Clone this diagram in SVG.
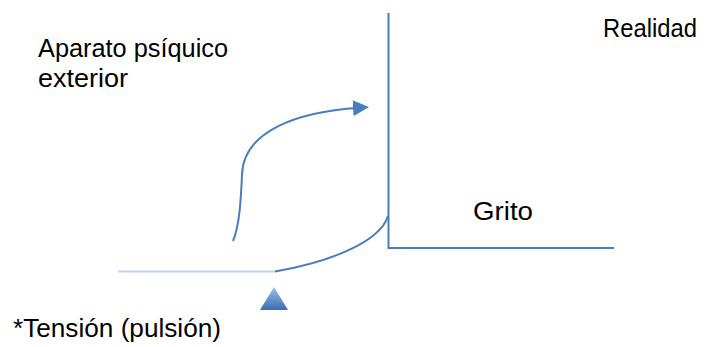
<svg xmlns="http://www.w3.org/2000/svg" width="706" height="347" viewBox="0 0 706 347">
<style>
text{font-family:"Liberation Sans","Open Sans",sans-serif;font-size:26px;fill:#000}
.ln{fill:none;stroke:#4a7ebb;stroke-width:2}
</style>
<defs>
<marker id="ah" markerWidth="16" markerHeight="16" refX="3" refY="8" orient="auto" markerUnits="userSpaceOnUse" viewBox="0 0 16 16">
<path d="M0,0 L16,8 L0,16 Z" fill="#4a7ebb"/>
</marker>
<linearGradient id="tg" x1="0" y1="0" x2="0" y2="1">
<stop offset="0" stop-color="#9dbfe8"/>
<stop offset="1" stop-color="#3a6db5"/>
</linearGradient>
</defs>
<rect width="706" height="347" fill="#fff"/>
<g id="labels">
<text x="38" y="57" textLength="190" lengthAdjust="spacingAndGlyphs">Aparato psíquico</text>
<text x="38" y="87" textLength="90" lengthAdjust="spacingAndGlyphs">exterior</text>
<text x="603" y="37" textLength="94" lengthAdjust="spacingAndGlyphs">Realidad</text>
<text x="473" y="220" textLength="60" lengthAdjust="spacingAndGlyphs">Grito</text>
<text x="13" y="337" textLength="208" lengthAdjust="spacingAndGlyphs">*Tensión (pulsión)</text>
</g>
<g id="axes">
<path class="ln" d="M388.5,13 V248 H614"/>
</g>
<g id="triangle">
<path d="M274,287 L260,310 L288,310 Z" fill="url(#tg)"/>
</g>
<g id="connectors">
<path d="M118,271.5 H275" fill="none" stroke="#bdd7ee" stroke-width="2"/>
<path class="ln" d="M275,271.5 C330,262 380,242 388,216"/>
<path class="ln" stroke-width="3" d="M233,241 C240,225 241,195 242,175 C243,130 300,112 356,108" marker-end="url(#ah)"/>
</g>
</svg>
